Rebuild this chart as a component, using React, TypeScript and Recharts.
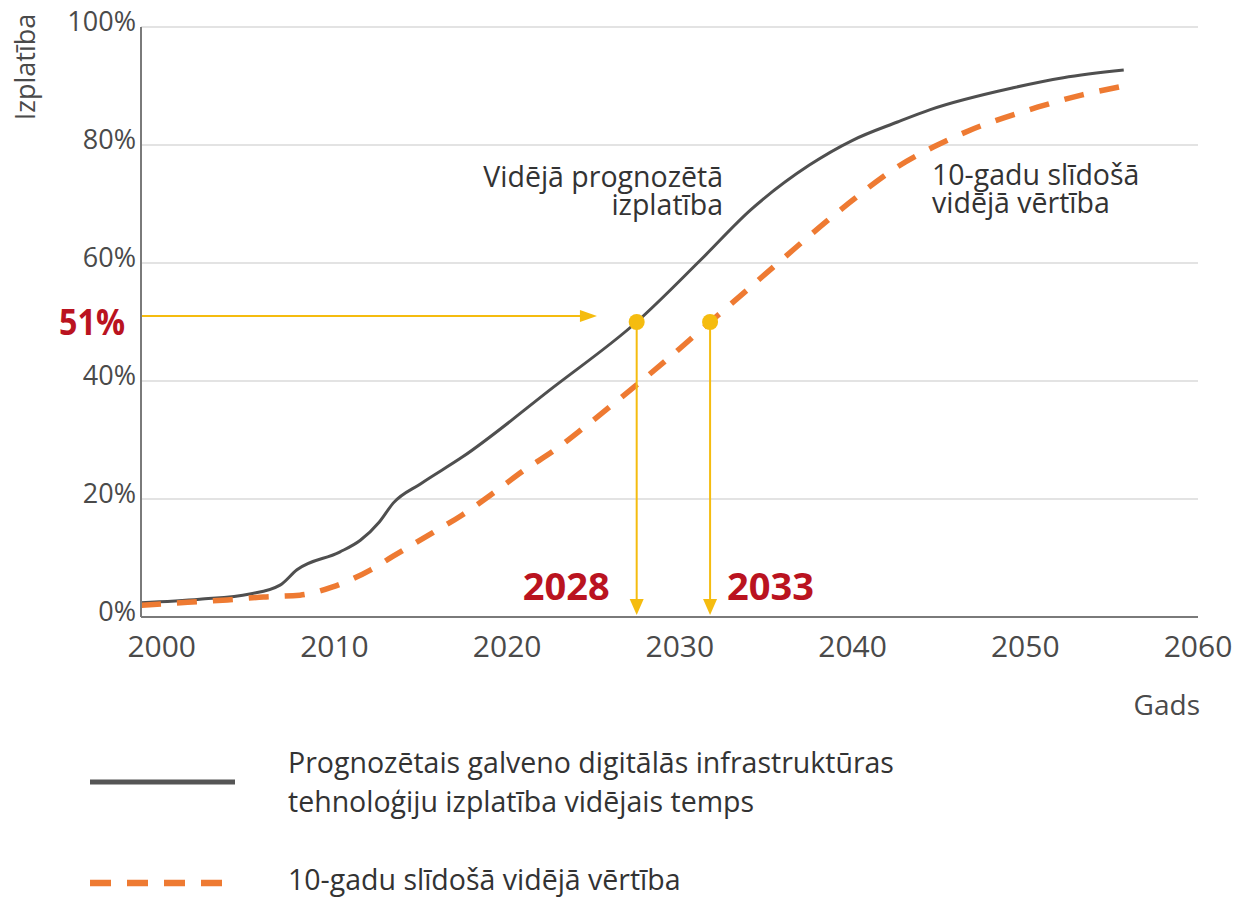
import React from 'react';
import { LineChart, Line, XAxis, YAxis, CartesianGrid, ReferenceLine, ReferenceDot } from 'recharts';

// ---- data ----
const yearTicks = [2000, 2010, 2020, 2030, 2040, 2050, 2060];
const percentTicks = [0, 20, 40, 60, 80, 100];

const forecastYears = [1998.8, 2002.2, 2005.1, 2006.85, 2007.83, 2010.3, 2011.5, 2012.6, 2013.4, 2015.0, 2017.4, 2022.7, 2027.5, 2031.2, 2034.1, 2037.5, 2040.0, 2042.6, 2044.5, 2049.3, 2052.2, 2055.7];
const forecastValues = [2.4, 3.0, 3.9, 5.4, 8.0, 11.0, 13.0, 16.1, 19.3, 22.6, 27.1, 39.0, 50.0, 60.5, 69.0, 76.6, 80.8, 83.9, 86.0, 89.7, 91.4, 92.7];

const movingYears = [1998.8, 2001.5, 2003.8, 2005.9, 2008.0, 2009.9, 2012.1, 2013.4, 2015.7, 2017.4, 2019.2, 2020.9, 2022.9, 2024.4, 2026.1, 2027.9, 2029.6, 2031.75, 2032.9, 2035.8, 2039.3, 2042.6, 2044.7, 2046.8, 2050.7, 2053.3, 2055.7];
const movingValues = [2.0, 2.5, 2.9, 3.4, 3.7, 5.1, 8.0, 10.3, 14.3, 17.3, 21.0, 24.7, 28.6, 32.0, 36.0, 40.3, 44.5, 50.0, 52.9, 60.3, 69.0, 76.3, 79.7, 82.5, 86.4, 88.5, 90.0];

const thresholdValue = 51;
const thresholdArrowEnd = 2025.2;
const crossingValue = 50;
const crossingPositions = [2027.5, 2031.75];
const crossingLabels = ['2028', '2033'];

const xDomain = [1998.8, 2060];

const seriesNames = [
  ['Prognozētais galveno digitālās infrastruktūras', 'tehnoloģiju izplatība vidējais temps'],
  ['10-gadu slīdošā vidējā vērtība'],
];
const forecastNote = ['Vidējā prognozētā', 'izplatība'];
const movingNote = ['10-gadu slīdošā', 'vidējā vērtība'];
const yTitle = 'Izplatība';
const xTitle = 'Gads';

// ---- style ----
const FONT = '"Open Sans", sans-serif';
const GRAY = '#4f4f4f';
const ORANGE = '#EE7A32';
const YELLOW = '#F5BC0F';
const RED = '#BA1320';
const TEXT = '#333333';
const TICK = '#4a4a4a';

const forecastData = forecastYears.map((year, i) => ({ year, value: forecastValues[i] }));
const movingData = movingYears.map((year, i) => ({ year, value: movingValues[i] }));

const XTick = (p: any) => (
  <text x={p.x} y={p.y + 24} textAnchor="middle" fontSize={30} fill={TICK} fontFamily={FONT}>
    {p.payload.value}
  </text>
);

const YTick = (p: any) => (
  <text x={p.x} y={p.y + 4} textAnchor="end" fontSize={27} fill={TICK} fontFamily={FONT}>
    {p.payload.value}%
  </text>
);

const XTitle = (p: any) => {
  const vb = p.viewBox || {};
  return (
    <text x={vb.x + vb.width + 2} y={vb.y + 98} textAnchor="end" fontSize={28} fill={TICK} fontFamily={FONT}>
      {xTitle}
    </text>
  );
};

const YTitle = (p: any) => {
  const vb = p.viewBox || {};
  const x = vb.x - 6;
  const y = vb.y + 40;
  return (
    <text x={x} y={y} transform={`rotate(-90, ${x}, ${y})`} textAnchor="middle" fontSize={27} fill={TICK} fontFamily={FONT}>
      {yTitle}
    </text>
  );
};

const HArrow = (p: any) => {
  const { x1, y1, x2, y2 } = p;
  return (
    <g>
      <line x1={x1} y1={y1} x2={x2 - 12} y2={y2} stroke={YELLOW} strokeWidth={2} />
      <polygon points={`${x2},${y2} ${x2 - 17},${y2 - 6} ${x2 - 17},${y2 + 6}`} fill={YELLOW} />
      <text x={x1 - 16} y={y1 + 19} textAnchor="end" fontSize={35} fontWeight={700} fill={RED} fontFamily={FONT} textLength={66} lengthAdjust="spacingAndGlyphs">
        {thresholdValue}%
      </text>
    </g>
  );
};

const makeVArrow = (label: string, side: 'left' | 'right') => (p: any) => {
  const { x1, y1, x2, y2 } = p;
  const bottom = Math.max(y1, y2) - 2;
  const top = Math.min(y1, y2);
  return (
    <g>
      <line x1={x1} y1={top} x2={x2} y2={bottom - 12} stroke={YELLOW} strokeWidth={2} />
      <polygon points={`${x1},${bottom} ${x1 - 7},${bottom - 16} ${x1 + 7},${bottom - 16}`} fill={YELLOW} />
      <text
        x={side === 'left' ? x1 - 27 : x1 + 17}
        y={bottom - 15}
        textAnchor={side === 'left' ? 'end' : 'start'}
        fontSize={38}
        fontWeight={700}
        fill={RED}
        fontFamily={FONT}
      >
        {label}
      </text>
    </g>
  );
};

const makeNote = (lines: string[], anchor: 'start' | 'end') => (p: any) => (
  <g>
    {lines.map((l, i) => (
      <text key={i} x={p.cx} y={p.cy + i * 28} textAnchor={anchor} fontSize={28.5} fill={TEXT} fontFamily={FONT}>
        {l}
      </text>
    ))}
  </g>
);

export default function App() {
  return (
    <div style={{ position: 'absolute', left: 0, top: 0, width: 1241, height: 898, background: '#fff', fontFamily: FONT }}>
      <LineChart width={1241} height={898} margin={{ top: 27, right: 43, left: 41, bottom: 171 }}>
        <CartesianGrid horizontal vertical={false} stroke="#dadada" strokeWidth={1.5} />
        <XAxis
          type="number"
          dataKey="year"
          domain={xDomain}
          ticks={yearTicks}
          allowDataOverflow
          height={110}
          tickSize={0}
          tickMargin={16}
          axisLine={{ stroke: '#7a7a7a', strokeWidth: 2 }}
          tick={XTick}
          label={XTitle}
        />
        <YAxis
          type="number"
          domain={[0, 100]}
          ticks={percentTicks}
          width={100}
          tickSize={0}
          tickMargin={5}
          axisLine={{ stroke: '#7a7a7a', strokeWidth: 2 }}
          tick={YTick}
          label={YTitle}
        />
        <Line data={forecastData} dataKey="value" type="monotone" stroke={GRAY} strokeWidth={3} dot={false} isAnimationActive={false} />
        <Line data={movingData} dataKey="value" type="monotone" stroke={ORANGE} strokeWidth={5.5} strokeDasharray="20 16" dot={false} isAnimationActive={false} />

        <ReferenceLine
          segment={[{ x: xDomain[0], y: thresholdValue }, { x: thresholdArrowEnd, y: thresholdValue }]}
          ifOverflow="visible"
          shape={HArrow}
        />
        {crossingPositions.map((x, i) => (
          <ReferenceLine
            key={'v' + i}
            segment={[{ x, y: crossingValue }, { x, y: 0 }]}
            ifOverflow="visible"
            shape={makeVArrow(crossingLabels[i], i === 0 ? 'left' : 'right')}
          />
        ))}
        {crossingPositions.map((x, i) => (
          <ReferenceDot key={'d' + i} x={x} y={crossingValue} r={8} fill={YELLOW} stroke="none" ifOverflow="visible" />
        ))}
        <ReferenceDot x={2032.5} y={72.9} r={0} ifOverflow="visible" shape={makeNote(forecastNote, 'end')} />
        <ReferenceDot x={2044.6} y={73.2} r={0} ifOverflow="visible" shape={makeNote(movingNote, 'start')} />
      </LineChart>

      <div style={{ position: 'absolute', left: 0, top: 730, width: 1241, height: 168 }}>
        <svg width={1241} height={168}>
          <line x1={90} y1={52} x2={235} y2={52} stroke="#555" strokeWidth={5} />
          <text x={288} y={43} fontSize={28.5} fill={TEXT} fontFamily={FONT}>{seriesNames[0][0]}</text>
          <text x={288} y={82} fontSize={28.5} fill={TEXT} fontFamily={FONT}>{seriesNames[0][1]}</text>
          <line x1={90} y1={153} x2={224} y2={153} stroke={ORANGE} strokeWidth={6.5} strokeDasharray="21 16" />
          <text x={288} y={160} fontSize={28.5} fill={TEXT} fontFamily={FONT}>{seriesNames[1][0]}</text>
        </svg>
      </div>
    </div>
  );
}
